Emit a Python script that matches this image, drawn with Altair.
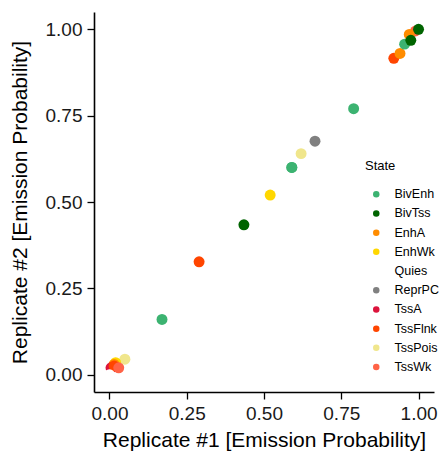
import altair as alt
import pandas as pd

states = ["BivEnh", "BivTss", "EnhA", "EnhWk", "Quies", "ReprPC", "TssA", "TssFlnk", "TssPois", "TssWk"]
colors = ["#3CB371", "#006400", "#FF8C00", "#FFD700", "#FFFFFF", "#808080", "#DC143C", "#FF4500", "#F0E68C", "#FF6347"]

# points (state, replicate1, replicate2) in drawing order
pt_state = ["TssPois", "EnhWk", "EnhA", "TssA", "TssFlnk", "Quies", "TssWk",
            "BivEnh", "TssFlnk", "BivEnh", "BivTss", "EnhWk", "BivEnh", "TssPois", "ReprPC", "BivEnh",
            "TssFlnk", "EnhA", "BivEnh", "TssWk", "EnhA", "BivTss", "BivTss"]
rep1 = [0.05, 0.02, 0.015, 0.005, 0.015, 0.00, 0.03,
        0.17, 0.29, 0.59, 0.435, 0.52, 0.79, 0.62, 0.665, 0.59,
        0.92, 0.94, 0.955, 0.99, 0.97, 0.975, 1.00]
rep2 = [0.045, 0.035, 0.03, 0.02, 0.025, 0.00, 0.02,
        0.16, 0.327, 0.60, 0.434, 0.52, 0.77, 0.64, 0.676, 0.60,
        0.916, 0.93, 0.957, 0.995, 0.985, 0.968, 1.00]

df = pd.DataFrame({"State": pt_state, "r1": rep1, "r2": rep2, "order": list(range(len(rep1)))})

FONT = "Liberation Sans"
axis_common = dict(values=[0, 0.25, 0.5, 0.75, 1.0], format=".2f", grid=False,
                   domainColor="black", domainWidth=1.6, tickColor="black", tickWidth=1.3,
                   tickSize=7, labelFontSize=19, labelColor="#1a1a1a",
                   titleFontSize=21, titleFontWeight="normal", titleColor="black",
                   labelFont=FONT, titleFont=FONT)

chart = alt.Chart(df).mark_circle(size=120, opacity=1).encode(
    x=alt.X("r1:Q", title="Replicate #1 [Emission Probability]",
            scale=alt.Scale(domain=[-0.05, 1.05], nice=False, zero=False),
            axis=alt.Axis(labelPadding=5, titlePadding=6, **axis_common)),
    y=alt.Y("r2:Q", title="Replicate #2 [Emission Probability]",
            scale=alt.Scale(domain=[-0.05, 1.05], nice=False, zero=False),
            axis=alt.Axis(labelPadding=5, titlePadding=15, **axis_common)),
    color=alt.Color("State:N", scale=alt.Scale(domain=states, range=colors),
                    legend=alt.Legend(orient="none", legendX=271, legendY=148, title="State",
                                      padding=0, titleFontSize=13, titleFontWeight="normal",
                                      titleColor="black", labelFontSize=12.5, labelColor="black",
                                      symbolSize=42, symbolType="circle", symbolOffset=5,
                                      labelOffset=12, rowPadding=6.2, titlePadding=15,
                                      labelFont=FONT, titleFont=FONT, symbolStrokeWidth=0)),
    order="order:Q",
).properties(
    width=340, height=380,
    autosize=alt.AutoSizeParams(type="none"),
    padding={"left": 86, "top": 4, "right": 5, "bottom": 61},
).configure_view(stroke=None)

chart.save("out.html", embed_options={"renderer": "svg", "actions": False})
